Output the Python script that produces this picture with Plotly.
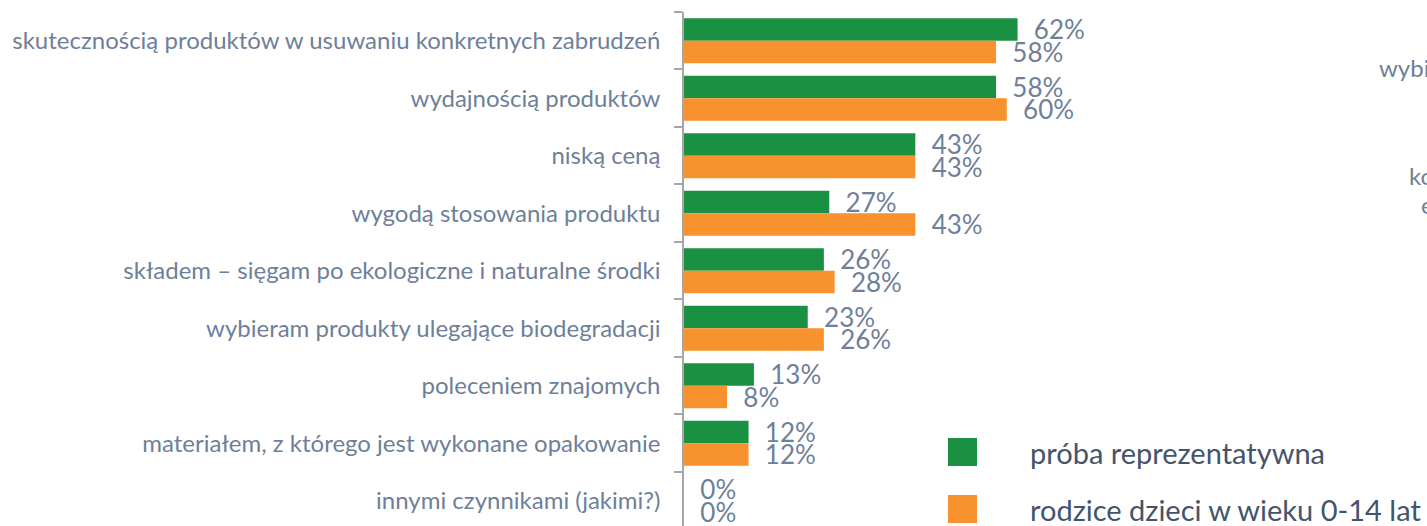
import plotly.graph_objects as go

categories = [
    "skutecznością produktów w usuwaniu konkretnych zabrudzeń",
    "wydajnością produktów",
    "niską ceną",
    "wygodą stosowania produktu",
    "składem – sięgam po ekologiczne i naturalne środki",
    "wybieram produkty ulegające biodegradacji",
    "poleceniem znajomych",
    "materiałem, z którego jest wykonane opakowanie",
    "innymi czynnikami (jakimi?)",
]
series_names = ["próba reprezentatywna", "rodzice dzieci w wieku 0-14 lat"]
values_rep = [62, 58, 43, 27, 26, 23, 13, 12, 0]
values_par = [58, 60, 43, 43, 28, 26, 8, 12, 0]
colors = ["#1a9142", "#f7922e"]

LABEL = "#6e7f99"
FONT = "Lato"

W, H = 1427, 526
ML, MT = 684, 12
PW = 538
PH = H - MT

fig = go.Figure()
for name, vals, col in zip(series_names, [values_rep, values_par], colors):
    fig.add_trace(go.Bar(
        name=name, y=categories, x=vals, orientation="h",
        marker=dict(color=col, line=dict(width=0)),
        text=[f"\u00a0\u00a0{v}%" for v in vals],
        textposition="outside", cliponaxis=False, constraintext="none",
        textfont=dict(family=FONT, size=26, color=LABEL),
        showlegend=False,
    ))

fig.update_layout(
    width=W, height=H,
    margin=dict(l=ML, r=W - ML - PW, t=MT, b=0),
    paper_bgcolor="white", plot_bgcolor="white",
    barmode="group", bargap=0.217, bargroupgap=0,
    font=dict(family=FONT, color=LABEL),
    xaxis=dict(range=[0, 100], visible=False, showgrid=False, zeroline=False),
    yaxis=dict(
        categoryorder="array", categoryarray=categories,
        range=[8.44, -0.5], showline=True, linecolor="#a6a6a6", linewidth=1.5,
        ticks="outside", tickson="boundaries", ticklen=8, tickcolor="#a6a6a6",
        tickwidth=1.5, showgrid=False, ticklabelstandoff=17,
        tickfont=dict(family=FONT, size=24, color=LABEL),
    ),
)


def px(xp):
    return (xp - ML) / PW


def py(yp):
    return (H - yp) / PH


# legend drawn manually (large square swatches)
legend_y = [452, 509]
for name, col, yc in zip(series_names, colors, legend_y):
    fig.add_shape(type="rect", xref="paper", yref="paper",
                  x0=px(948), x1=px(977), y0=py(yc + 14), y1=py(yc - 14),
                  fillcolor=col, line=dict(width=0))
    fig.add_annotation(xref="paper", yref="paper", x=px(1028), y=py(yc),
                       text=name, showarrow=False,
                       xanchor="left", yanchor="middle",
                       font=dict(family=FONT, size=29, color="#44546a"))

# fragments of the neighbouring chart clipped at the right edge
for txt, xpx, ypx in [("wybi", 1377, 68), ("ko", 1407, 175), ("e", 1419, 204)]:
    fig.add_annotation(xref="paper", yref="paper", x=px(xpx), y=py(ypx),
                       text=txt, showarrow=False,
                       xanchor="left", yanchor="middle",
                       font=dict(family=FONT, size=24, color=LABEL))

fig.write_html(
    "out.html",
    config={"displayModeBar": False},
    post_script="document.body.style.margin='0';document.body.style.overflow='hidden';",
)
